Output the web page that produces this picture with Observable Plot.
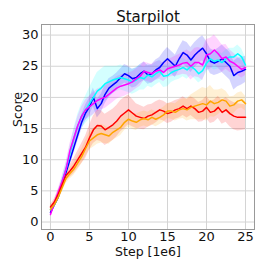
<!DOCTYPE html>
<html><head><meta charset="utf-8">
<script src="https://cdn.jsdelivr.net/npm/d3@7"></script>
<script src="https://cdn.jsdelivr.net/npm/@observablehq/plot@0.6"></script>
<style>body{margin:0;background:#fff}svg{font-family:"DejaVu Sans",sans-serif}</style>
</head><body><div id="chart"></div>
<script>
const title = "Starpilot";
const xLabel = "Step [1e6]";
const yLabel = "Score";
const xTicks = [0, 5, 10, 15, 20, 25];
const yTicks = [0, 5, 10, 15, 20, 25, 30];
const steps = [0,0.5,1,1.5,2,2.5,3,3.5,4,4.5,5,5.5,6,6.5,7,7.5,8,8.5,9,9.5,10,10.5,11,11.5,12,12.5,13,13.5,14,14.5,15,15.5,16,16.5,17,17.5,18,18.5,19,19.5,20,20.5,21,21.5,22,22.5,23,23.5,24,24.5,25];
const seriesNames = ["blue", "cyan", "magenta", "red", "orange"];
const seriesColors = ["#1010f0", "#00f0ff", "#f810f0", "#ff0a0a", "#ffa010"];
const blue = [1.5,2.8,4,6,8,10,12,14,16,17.5,18.5,20,18.2,19,20.5,21.5,22,22.5,23.2,23.8,23.5,23,23.2,23.8,24.2,23.6,23.8,24.4,24.8,25.6,26.2,25.6,25,26.2,27.2,26.8,26,26.8,27.4,27.9,27,25.8,25.5,25.8,26.2,25.6,25,23.5,24,24.2,24.5];
const cyan = [2,2.8,4.2,6.5,8.5,11,13.5,15.5,17,18,19,20,21,21.5,22.2,22.5,22.8,23,23.2,23,22.8,22.5,22.8,23.2,23,23.6,23.3,23.8,24.2,23.4,23.5,24,24.3,24.5,24.8,24.4,25,24.5,23.8,24.3,25.5,26.2,25.8,26,25.6,26.2,26.5,26.5,27,26.5,25.2];
const magenta = [1.2,3,4.8,6.5,8.5,11.5,13.5,15.5,17,18,18.5,19,19.5,19.8,20,20.5,21,21.5,21.8,22,22.2,22.5,23,23.4,24.2,24,23.8,24.2,24.4,24,24.6,24.8,25,25.2,25.5,25.6,25,25.6,25.6,25.2,26.8,27,27.6,27,26.2,26.5,25.8,25.5,25,24.5,24.8];
const red = [2.4,3.2,4.5,6,7.5,8.2,9,10,11,12,13.5,14.8,15.5,15.4,14.8,15.2,15.6,16.2,17,17.5,18,17.5,17,16.8,16.6,17,17.2,17.6,18,17.8,17.4,17.6,18,18.2,18.6,18.2,18.6,18.2,17.6,17.8,18.4,17.6,17.8,18.4,17.6,18,17.4,17,16.8,16.8,16.8];
const orange = [2,2.8,4,5.5,7,7.8,8.5,9.5,10.5,11.8,13,13.5,14,14.2,14,13.8,14.4,14.8,15.2,16,16.5,16.2,16,16.4,16.6,16.4,16.8,16.5,16.8,17.2,17.8,17.8,17.6,18,18.2,18,18.4,18.6,18.8,19,18.8,19.4,19,19.2,19.6,19.4,18.6,18.8,19.4,19.6,19];
const blueStd = [0.4,0.5,0.6,0.7,0.8,0.9,1,1.1,1.2,1.3,1.4,1.5,1.5,1.5,1.5,1.5,1.4,1.4,1.4,1.5,1.5,1.5,1.5,1.5,1.5,1.5,1.5,1.6,1.6,1.7,1.8,1.8,1.8,1.8,1.9,2,2,2,2,2,2,2,2,2.1,2.2,2.2,2.2,2.3,2.3,2.2,2.1];
const cyanStd = [0.4,0.5,0.6,0.8,1,1.2,1.5,1.8,2,2.2,2.5,2.8,3,3,2.8,2.5,2.2,2,2,2,2,2,2,2,1.8,1.8,1.8,1.8,1.8,1.8,1.8,1.6,1.6,1.6,1.5,1.5,1.5,1.5,1.5,1.5,1.5,1.4,1.4,1.4,1.4,1.4,1.4,1.4,1.4,1.3,1.2];
const magentaStd = [0.4,0.5,0.6,0.8,1,1.1,1.2,1.4,1.5,1.6,1.7,1.8,1.8,1.8,1.8,1.8,1.8,1.8,1.8,1.8,1.7,1.6,1.6,1.6,1.5,1.5,1.5,1.5,1.5,1.5,1.5,1.5,1.6,1.7,1.8,2,2.2,2.3,2.4,2.5,2.5,2.5,2.4,2.3,2.2,2,1.8,1.6,1.5,1.4,1.3];
const redStd = [0.4,0.5,0.6,0.7,0.9,1,1.2,1.4,1.6,1.8,2,2.2,2.4,2.5,2.5,2.5,2.5,2.5,2.5,2.5,2.4,2.2,2,1.9,1.8,1.8,1.7,1.7,1.6,1.6,1.6,1.6,1.5,1.5,1.5,1.5,1.5,1.6,1.6,1.7,1.8,1.8,1.8,1.8,1.9,2,2.1,2.2,2.2,2.1,2];
const orangeStd = [0.4,0.5,0.6,0.7,0.8,0.9,1,1.1,1.2,1.3,1.4,1.5,1.5,1.5,1.4,1.3,1.3,1.3,1.3,1.3,1.3,1.3,1.3,1.2,1.2,1.2,1.2,1.2,1.2,1.2,1.2,1.3,1.4,1.5,1.6,1.8,2,2.2,2.4,2.6,2.6,2.5,2.2,2,1.8,1.6,1.5,1.4,1.3,1.3,1.2];

const means = [blue, cyan, magenta, red, orange];
const stds = [blueStd, cyanStd, magentaStd, redStd, orangeStd];
const rows = [];
means.forEach((m, s) => m.forEach((v, i) => rows.push({
  series: seriesNames[s], step: steps[i], mean: v, lo: v - stds[s][i], hi: v + stds[s][i]
})));

const chart = Plot.plot({
  width: 266, height: 266,
  marginLeft: 41, marginRight: 12, marginTop: 24, marginBottom: 37,
  style: {fontFamily: "DejaVu Sans, sans-serif", fontSize: "13px", color: "#111", background: "#fff"},
  x: {domain: [-1.15, 26.15], ticks: xTicks, tickSize: 0, tickPadding: 2, label: null},
  y: {domain: [-1.2, 31.7], ticks: yTicks, tickSize: 0, tickPadding: 4, label: null},
  color: {domain: seriesNames, range: seriesColors},
  marks: [
    Plot.gridX(xTicks, {stroke: "#d4d4d4", strokeOpacity: 1, strokeWidth: 1}),
    Plot.gridY(yTicks, {stroke: "#d4d4d4", strokeOpacity: 1, strokeWidth: 1}),
    Plot.areaY(rows, {x: "step", y1: "lo", y2: "hi", z: "series", fill: "series", fillOpacity: 0.17, curve: "linear"}),
    Plot.lineY(rows, {x: "step", y: "mean", z: "series", stroke: "series", strokeWidth: 1.5, curve: "linear"}),
    Plot.frame({stroke: "#999", strokeWidth: 1}),
    Plot.axisX({ticks: xTicks, tickSize: 0, tickPadding: 2, fontSize: 13, label: null}),
    Plot.axisY({ticks: yTicks, tickSize: 0, tickPadding: 3, fontSize: 13, label: null}),
    Plot.text([title], {frameAnchor: "top", dy: -3, fontSize: 15, fill: "#111", lineAnchor: "bottom"}),
    Plot.text([xLabel], {frameAnchor: "bottom", dy: 18, fontSize: 12.5, fill: "#111", lineAnchor: "top"}),
    Plot.text([yLabel], {frameAnchor: "left", dx: -20, rotate: -90, fontSize: 12.5, fill: "#111", lineAnchor: "bottom"})
  ]
});
document.getElementById("chart").appendChild(chart);
</script></body></html>
